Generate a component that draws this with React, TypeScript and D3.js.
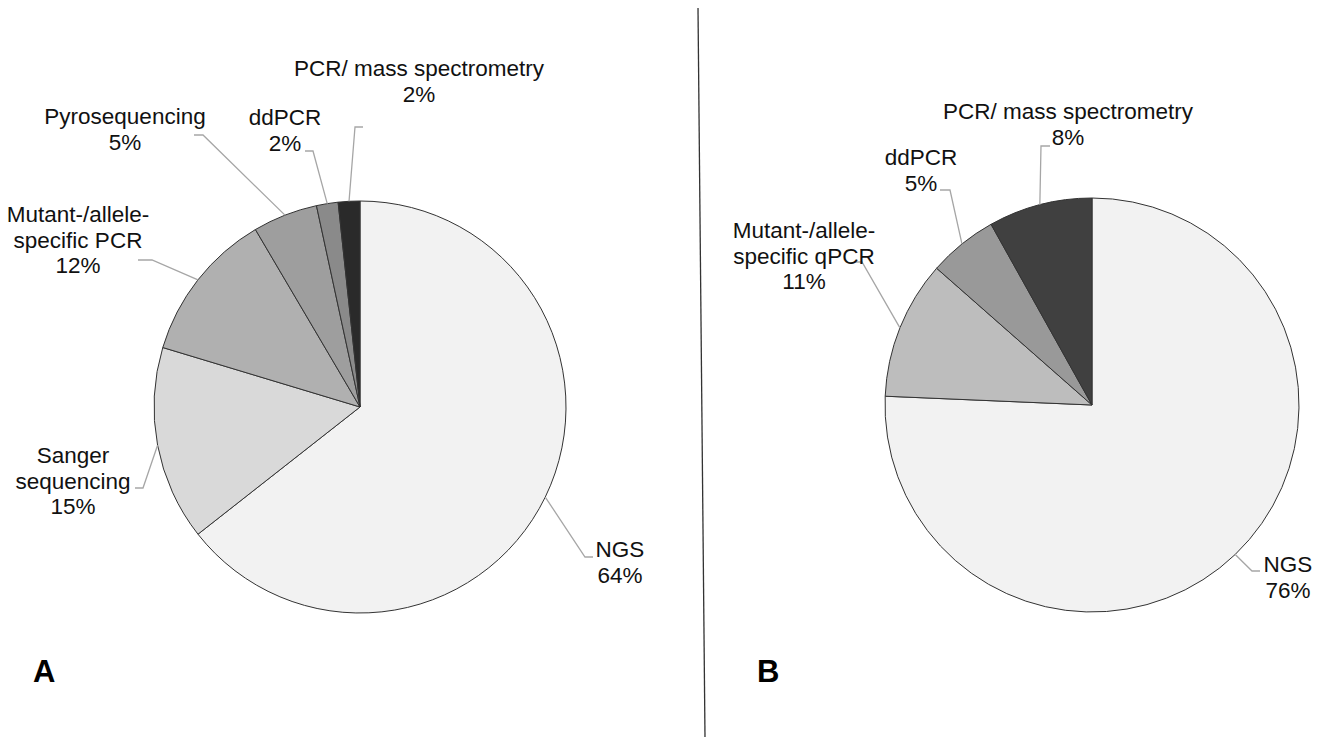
import { useEffect, useRef } from "react";
import * as d3 from "d3";

// Panel A: methods used (counts), clockwise from 12 o'clock
const methodsA = [
	"NGS",
	"Sanger sequencing",
	"Mutant-/allele-specific PCR",
	"Pyrosequencing",
	"ddPCR",
	"PCR/ mass spectrometry",
];
const countsA = [38, 9, 7, 3, 1, 1];
const linesA = [
	["NGS"],
	["Sanger", "sequencing"],
	["Mutant-/allele-", "specific PCR"],
	["Pyrosequencing"],
	["ddPCR"],
	["PCR/ mass spectrometry"],
];
const colorsA = ["#f2f2f2", "#d9d9d9", "#b0b0b0", "#9e9e9e", "#8a8a8a", "#2a2a2a"];

// Panel B
const methodsB = ["NGS", "Mutant-/allele-specific qPCR", "ddPCR", "PCR/ mass spectrometry"];
const countsB = [28, 4, 2, 3];
const linesB = [
	["NGS"],
	["Mutant-/allele-", "specific qPCR"],
	["ddPCR"],
	["PCR/ mass spectrometry"],
];
const colorsB = ["#f2f2f2", "#bdbdbd", "#999999", "#404040"];

// label layout: centre x, first baseline, leader elbow, leader end
const layoutA = [
	{ cx: 620, y0: 557, elbow: [585, 557], end: [593, 557] },
	{ cx: 73, y0: 463, elbow: [143, 488], end: [135, 488] },
	{ cx: 78, y0: 222, elbow: [152, 260], end: [138, 260] },
	{ cx: 125, y0: 124, elbow: [203, 135], end: [194, 135] },
	{ cx: 285, y0: 125, elbow: [313, 151], end: [305, 151] },
	{ cx: 419, y0: 76, elbow: [355, 127], end: [363, 127] },
];
const layoutB = [
	{ cx: 1288, y0: 572, elbow: [1252, 571], end: [1260, 571] },
	{ cx: 804, y0: 238, elbow: [862, 262], end: [855, 262] },
	{ cx: 921, y0: 165, elbow: [950, 190], end: [940, 190] },
	{ cx: 1068, y0: 119, elbow: [1041, 146], end: [1050, 146] },
];

const FONT = "'Liberation Sans', Arial, sans-serif";

export default function App() {
	const ref = useRef<SVGSVGElement>(null);

	useEffect(() => {
		const svg = d3.select(ref.current);
		svg.selectAll("*").remove();

		const pct = d3.format(".0%");

		const drawPie = (
			cx: number,
			cy: number,
			radius: number,
			methods: string[],
			counts: number[],
			lines: string[][],
			colors: string[],
			layout: { cx: number; y0: number; elbow: number[]; end: number[] }[]
		) => {
			const total = d3.sum(counts);
			const pie = d3.pie<number>().sort(null).value(d => d);
			const arcs = pie(counts);
			const arc = d3.arc<d3.PieArcDatum<number>>().innerRadius(0).outerRadius(radius);

			const g = svg.append("g").attr("transform", `translate(${cx},${cy})`);

			g.selectAll("path")
				.data(arcs)
				.enter()
				.append("path")
				.attr("d", arc)
				.attr("fill", (_, i) => colors[i])
				.attr("stroke", "#333")
				.attr("stroke-width", 1)
				.attr("stroke-linejoin", "round");

			// leaders + labels
			arcs.forEach((a, i) => {
				const mid = (a.startAngle + a.endAngle) / 2;
				const px = cx + radius * Math.sin(mid);
				const py = cy - radius * Math.cos(mid);
				const L = layout[i];

				svg.append("path")
					.attr("d", d3.line()([[px, py], [L.elbow[0], L.elbow[1]], [L.end[0], L.end[1]]]))
					.attr("fill", "none")
					.attr("stroke", "#a6a6a6")
					.attr("stroke-width", 1.3);

				const text = svg.append("text")
					.attr("text-anchor", "middle")
					.attr("font-family", FONT)
					.attr("font-size", "22.5px")
					.attr("fill", "#111")
					.attr("data-method", methods[i]);

				[...lines[i], pct(counts[i] / total)].forEach((s, j) => {
					text.append("tspan")
						.attr("x", L.cx)
						.attr("y", L.y0 + j * 25.5)
						.text(s);
				});
			});
		};

		drawPie(360, 407, 206, methodsA, countsA, linesA, colorsA, layoutA);
		drawPie(1092, 405, 207, methodsB, countsB, linesB, colorsB, layoutB);

		// divider between panels
		svg.append("line")
			.attr("x1", 698)
			.attr("y1", 8)
			.attr("x2", 705)
			.attr("y2", 737)
			.attr("stroke", "#333")
			.attr("stroke-width", 1.3);

		// panel letters
		[["A", 33], ["B", 757]].forEach(([t, x]) => {
			svg.append("text")
				.attr("x", x as number)
				.attr("y", 682)
				.attr("font-family", FONT)
				.attr("font-weight", "bold")
				.attr("font-size", "31px")
				.attr("fill", "#000")
				.text(t as string);
		});
	}, []);

	return (
		<svg
			ref={ref}
			width={1327}
			height={737}
			style={{ position: "absolute", left: 0, top: 0, background: "#fff" }}
		></svg>
	);
}
